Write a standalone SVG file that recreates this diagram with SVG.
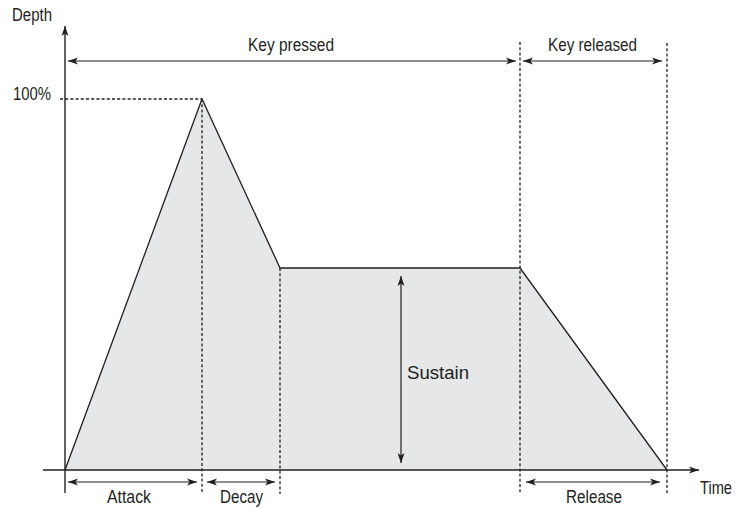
<svg xmlns="http://www.w3.org/2000/svg" width="738" height="508" viewBox="0 0 738 508">
<style>
.t{font-family:"Liberation Sans",Arial,sans-serif;font-size:17.5px;fill:#231f20}
.ln{stroke:#231f20;stroke-width:1.3;fill:none}
.ax{stroke:#231f20;stroke-width:1.4;fill:none}
.dot{stroke:#231f20;stroke-width:1.3;stroke-dasharray:3 2.2;fill:none}
.arr{stroke:#231f20;stroke-width:1.2;fill:none;marker-start:url(#ah);marker-end:url(#ah)}
</style>
<defs>
<marker id="ah" viewBox="0 0 10 8" refX="10" refY="4" markerWidth="10" markerHeight="8" markerUnits="userSpaceOnUse" orient="auto-start-reverse">
<path d="M0,0.5 L10,4 L0,7.5 L2.5,4 Z" fill="#231f20"/>
</marker>
</defs>
<g id="envelope">
<polygon points="65,470 202,99 280,268 520,268 667,470" fill="#e6e7e9" stroke="none"/>
<polyline class="ln" points="65,470 202,99 280,268 520,268 667,470"/>
</g>
<g id="axes">
<line class="ax" x1="65" y1="493" x2="65" y2="26" marker-end="url(#ah)"/>
<line class="ax" x1="43" y1="470" x2="699" y2="470" marker-end="url(#ah)"/>
</g>
<g id="guides">
<line class="dot" x1="60" y1="99" x2="202" y2="99"/>
<line class="dot" x1="202" y1="99" x2="202" y2="494"/>
<line class="dot" x1="280" y1="268" x2="280" y2="494"/>
<line class="dot" x1="520" y1="42" x2="520" y2="494"/>
<line class="dot" x1="667" y1="43" x2="667" y2="494"/>
</g>
<g id="connectors">
<line class="arr" x1="68" y1="61" x2="516" y2="61"/>
<line class="arr" x1="523" y1="61" x2="662" y2="61"/>
<line class="arr" x1="68" y1="482" x2="197" y2="482"/>
<line class="arr" x1="207" y1="482" x2="275" y2="482"/>
<line class="arr" x1="526" y1="482" x2="660" y2="482"/>
<line class="arr" x1="401" y1="276" x2="401" y2="463"/>
</g>
<g id="labels">
<text class="t" x="12" y="21" textLength="40" lengthAdjust="spacingAndGlyphs">Depth</text>
<text class="t" x="13" y="100" textLength="38" lengthAdjust="spacingAndGlyphs">100%</text>
<text class="t" x="248" y="51" textLength="86" lengthAdjust="spacingAndGlyphs">Key pressed</text>
<text class="t" x="548" y="51" textLength="89" lengthAdjust="spacingAndGlyphs">Key released</text>
<text class="t" x="407" y="379" textLength="62" lengthAdjust="spacingAndGlyphs">Sustain</text>
<text class="t" x="107" y="503" textLength="44" lengthAdjust="spacingAndGlyphs">Attack</text>
<text class="t" x="220" y="503" textLength="43" lengthAdjust="spacingAndGlyphs">Decay</text>
<text class="t" x="566" y="503" textLength="56" lengthAdjust="spacingAndGlyphs">Release</text>
<text class="t" x="700" y="494" textLength="32" lengthAdjust="spacingAndGlyphs">Time</text>
</g>
</svg>
